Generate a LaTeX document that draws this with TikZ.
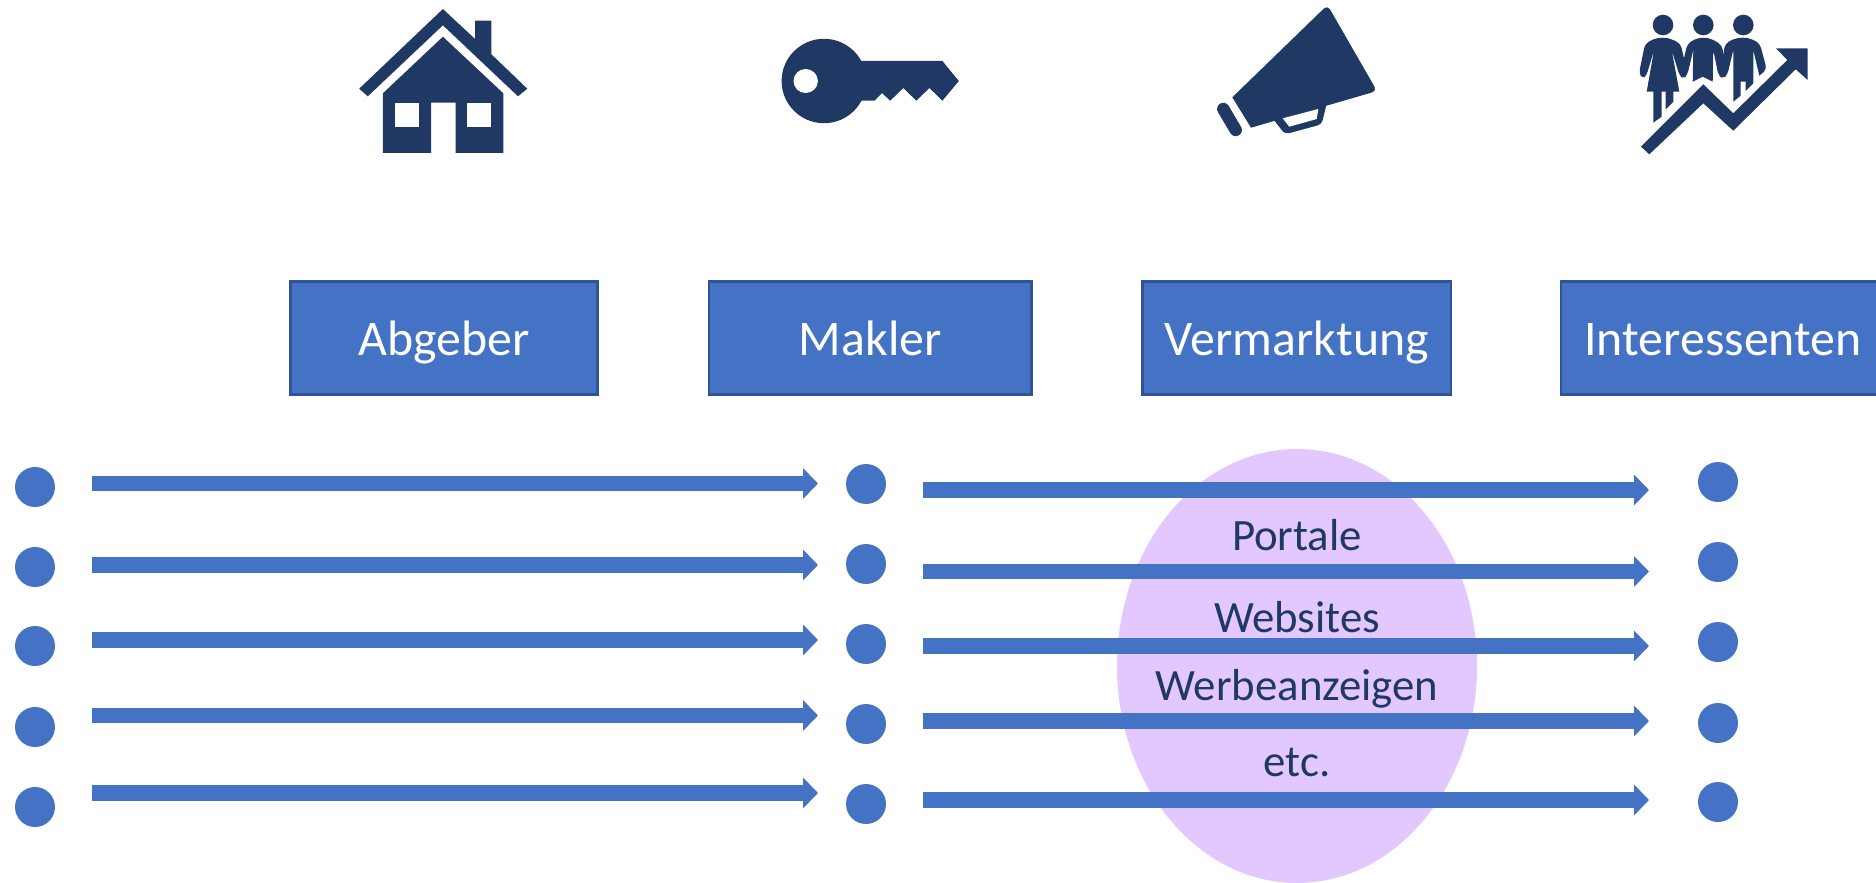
\documentclass[tikz,border=0pt]{standalone}
\usepackage{fontspec}
\setmainfont{Carlito}
\usetikzlibrary{arrows.meta,shapes.geometric}
\definecolor{blue1}{HTML}{4472C4}
\definecolor{blue2}{HTML}{2F5597}
\definecolor{navy}{HTML}{203864}
\definecolor{lilac}{HTML}{E2C8FF}
\tikzset{
  box/.style={draw=blue2,fill=blue1,line width=1.2pt,rectangle,inner sep=0pt,minimum height=56.6pt,
    text=white,font=\fontsize{24.9}{30}\selectfont,text height=17pt,text depth=0pt},
  dot/.style={circle,fill=blue1,inner sep=0pt,minimum size=20pt},
  flow/.style={draw=blue1,line width=7.8pt,-{Triangle[length=7.5pt,width=15pt,fill=blue1]}},
  mlabel/.style={text=navy,font=\fontsize{22.4}{28}\selectfont,anchor=base,inner sep=0pt},
  icon/.style={fill=navy,draw=none}
}
\begin{document}
\begin{tikzpicture}[x=0.5pt,y=-0.5pt]
\useasboundingbox (0,0) rectangle (1876,883);
\clip (0,0) rectangle (1876,883);
% ellipse
\node[ellipse,fill=lilac,inner sep=0pt,minimum width=180pt,minimum height=217pt] (oval) at (1297,666) {};
% boxes
\node[box,minimum width=153.5pt] (abgeber) at (444,338) {Abgeber};
\node[box,minimum width=161.2pt] (makler) at (870.3,338) {Makler};
\node[box,minimum width=154.2pt] (verm) at (1296.8,338) {Vermarktung};
\node[box,minimum width=162pt] (inter) at (1723,338) {Interessenten};
% dots
\foreach \n/\y in {1/487,2/567,3/646,4/727,5/807} \node[dot] (l\n) at (35,\y) {};
\foreach \n/\y in {1/484,2/564,3/644,4/724,5/804} \node[dot] (m\n) at (866,\y) {};
\foreach \n/\y in {1/482,2/562,3/642,4/723,5/802} \node[dot] (r\n) at (1718,\y) {};
% arrows
\foreach \n/\y in {1/483.5,2/565,3/640,4/715.5,5/793}{
  \coordinate (as\n) at (92,\y); \coordinate (ae\n) at (818,\y);
  \draw[flow] (as\n) -- (ae\n);
}
\foreach \n/\y in {1/490,2/571.5,3/646,4/721,5/800}{
  \coordinate (bs\n) at (923,\y); \coordinate (be\n) at (1649,\y);
  \draw[flow] (bs\n) -- (be\n);
}
% labels
\node[mlabel] (t1) at (1297,550) {Portale};
\node[mlabel] (t2) at (1297,632.7) {Websites};
\node[mlabel] (t3) at (1297,700) {Werbeanzeigen};
\node[mlabel] (t4) at (1297,776) {etc.};
% house
\fill[icon] (442.9,9) -- (475.1,39) -- (475.1,20.7) -- (491.4,20.7) -- (491.4,54.3) -- (527.3,88.7) -- (518,96.3) -- (442.9,25.3) -- (367.8,96.3) -- (359.2,88.7) -- cycle;
\fill[icon] (442.9,36.7) -- (503.3,93.3) -- (503.3,153) -- (455.5,153) -- (455.5,102.7) -- (431,102.7) -- (431,153) -- (382.9,153) -- (382.9,93.3) -- cycle;
\fill[white] (394.7,102.7) rectangle (419.2,127);
\fill[white] (466.9,102.7) rectangle (491.4,127);
% key
\fill[icon] (824,81) ellipse [x radius=42.4,y radius=42.2];
\fill[icon] (855,61) -- (942.4,61) -- (958.8,81) -- (942.4,100.7) -- (929.4,88) -- (916.3,100.7) -- (903.3,88) -- (890.2,100.7) -- (882,93) -- (874.3,100.7) -- (855,100.7) -- cycle;
\fill[white] (805.7,81) ellipse [x radius=12.2,y radius=12];
% megaphone
\fill[icon] (1251,127.7) -- (1232.3,97.3) [rounded corners=2.5pt] -- (1327.5,5) -- (1377,91) [sharp corners] -- cycle;
\fill[icon,rounded corners=2pt] (1270,115) -- (1285,134.3) -- (1321.7,124.3) -- (1328,98) -- cycle;
\fill[white] (1282.7,118.3) -- (1318.3,109) -- (1316.7,119) -- (1289.3,126.7) -- cycle;
\draw[navy,line width=6.2pt,line cap=round] (1223.3,109) -- (1235.7,130);
% people
\fill[icon] (1663,25) circle [radius=10.3];
\fill[icon] (1703.3,25) circle [radius=10.3];
\fill[icon] (1743.3,25) circle [radius=10.3];
\fill[icon,rounded corners=2pt] (1639,73.3) -- (1645,44) -- (1653.3,39) -- (1662.7,37.3) -- (1671.7,39) -- (1680.7,44) -- (1687.3,73.3) -- (1683.3,79) -- (1679.3,75) -- (1671.7,50)
  [sharp corners] -- (1679.3,91.7) -- (1646.7,91.7) -- (1654,50) [rounded corners=2pt] -- (1646.7,75) -- (1642.7,79) -- cycle;
\fill[icon] (1653.3,90) -- (1661.7,90) -- (1661.7,116.7) -- (1653.3,122.7) -- cycle;
\fill[icon] (1665.7,90) -- (1673.3,90) -- (1673.3,101.7) -- (1665.7,109.3) -- cycle;
\fill[icon,rounded corners=2pt] (1680,75) -- (1687.3,44) -- (1695,39) -- (1703.3,37.3) -- (1712,39) -- (1721.7,45) -- (1727.3,73.3) -- (1722.7,79) -- (1718.3,75) -- (1713.3,50)
  [sharp corners] -- (1712.7,81.7) -- (1702.7,76.7) -- (1692.7,81.7) -- (1693.3,50) [rounded corners=2pt] -- (1687.3,75) -- (1683.3,79) -- cycle;
\fill[icon,rounded corners=2pt] (1720,75) -- (1725,44) -- (1733,39) -- (1743.3,37.3) -- (1752,39) -- (1760,44) -- (1766.7,69.3) [sharp corners] -- (1759.3,75.7) -- (1753.3,50) -- (1753.3,83.3) -- (1745.7,91) -- (1745.7,81.7) -- (1740.7,81.7) -- (1740.7,95.7) -- (1733.3,101.7) -- (1733.3,50) [rounded corners=2pt] -- (1727.3,75) -- (1722.7,79) -- cycle;
\fill[icon] (1641,146.7) -- (1649.3,154.3) -- (1703.3,103.3) -- (1733.3,130.7) -- (1795.7,69.3) -- (1807.7,80) -- (1807.7,48.3) -- (1776,48.3) -- (1787.3,60) -- (1733.3,113.3) -- (1703.3,84.3) -- cycle;
\end{tikzpicture}
\end{document}
